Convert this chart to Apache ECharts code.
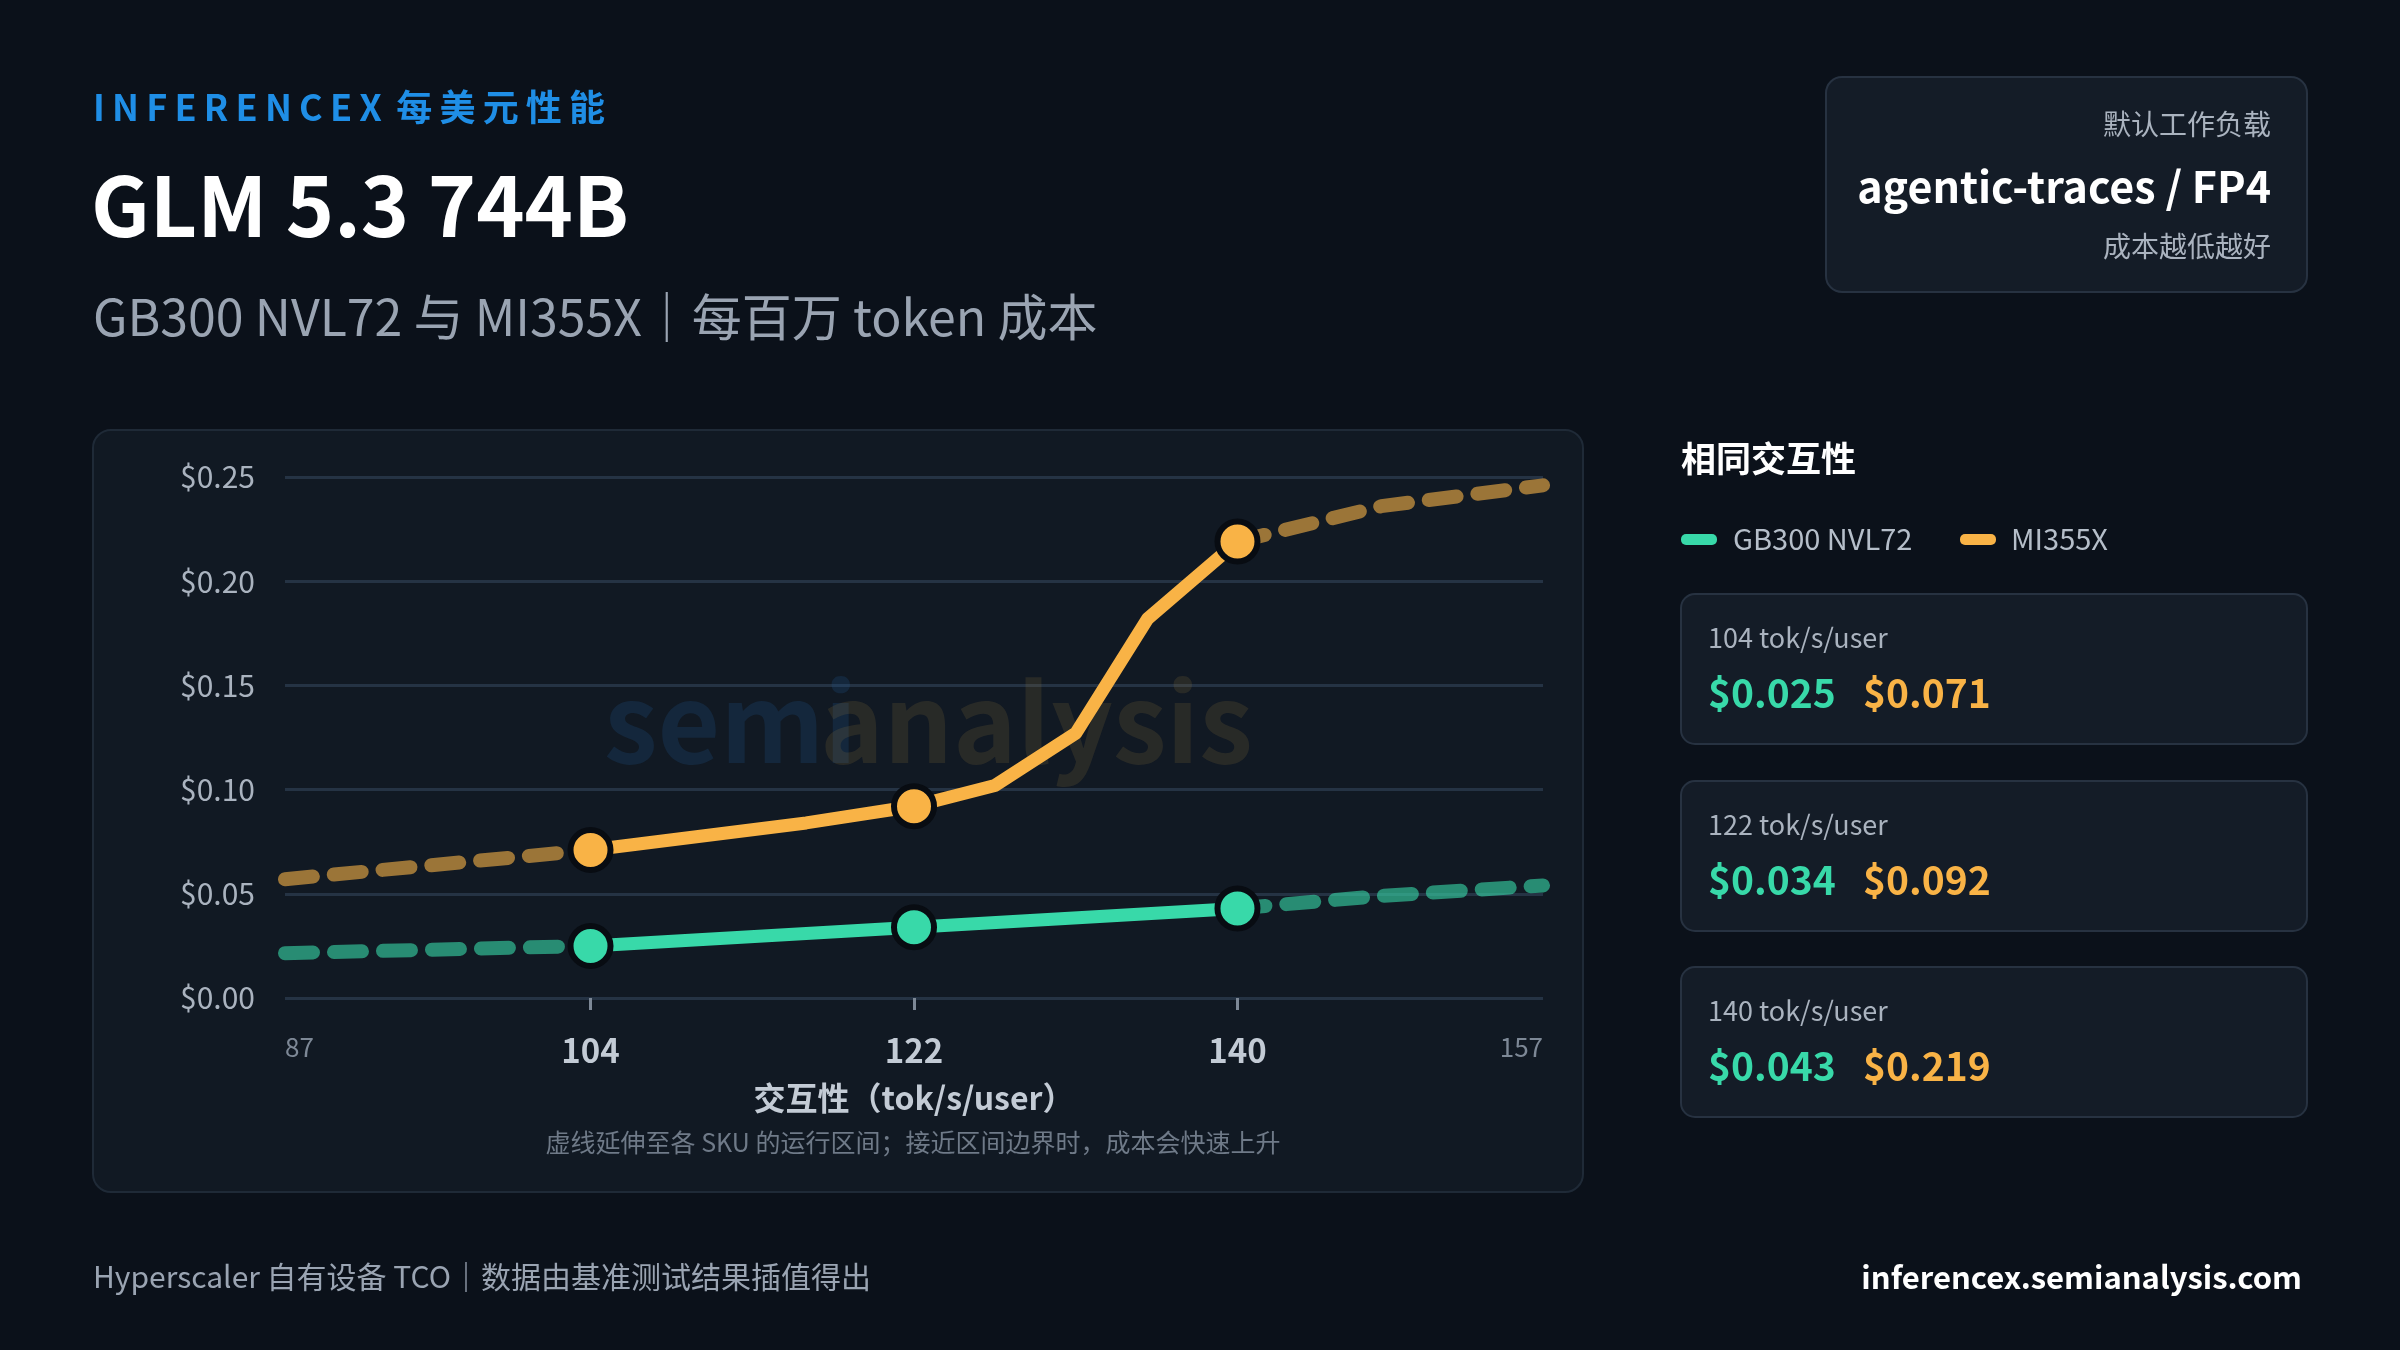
<!DOCTYPE html>
<html lang="zh-CN">
<head>
<meta charset="UTF-8">
<title>GLM 5.3 744B 每美元性能</title>
<script src="https://cdn.jsdelivr.net/npm/echarts@6.0.0/dist/echarts.min.js"></script>
<style>
  html, body { margin: 0; padding: 0; background: #0b111a; }
  #chart { width: 2400px; height: 1350px; }
</style>
</head>
<body>
<div id="chart"></div>
<script>
// 数据
const xLabels = [87, 104, 122, 140, 157];
const xTicks = [104, 122, 140];
const gbDashLeft = [[87, 0.0215], [104, 0.025]];
const gbSolid = [[104, 0.025], [122, 0.034], [140, 0.043]];
const gbDashRight = [[140, 0.043], [148, 0.049], [157, 0.054]];
const miDashLeft = [[87, 0.057], [104, 0.071]];
const miSolid = [[104, 0.071], [116, 0.084], [122, 0.092], [126.5, 0.102], [131, 0.127], [135, 0.182], [140, 0.219]];
const miDashRight = [[140, 0.219], [148, 0.236], [157, 0.246]];
const gbPoints = [[104, 0.025], [122, 0.034], [140, 0.043]];
const miPoints = [[104, 0.071], [122, 0.092], [140, 0.219]];
const cards = [
  { label: '104 tok/s/user', gb: '$0.025', mi: '$0.071' },
  { label: '122 tok/s/user', gb: '$0.034', mi: '$0.092' },
  { label: '140 tok/s/user', gb: '$0.043', mi: '$0.219' }
];

const GREEN = '#38d9a9';
const ORANGE = '#f9b346';
const FONT = '"Noto Sans CJK SC", "Noto Sans", sans-serif';

const chart = echarts.init(document.getElementById('chart'));

function dashed(data, color) {
  return {
    type: 'line', data: data, symbol: 'none', z: 2,
    lineStyle: { color: color, width: 14, opacity: 0.6, type: [28, 21], cap: 'round' }
  };
}
function solid(data, color) {
  return {
    type: 'line', data: data, symbol: 'none', z: 3,
    lineStyle: { color: color, width: 13, cap: 'round', join: 'round' }
  };
}
function points(data, color) {
  return {
    type: 'scatter', data: data, symbolSize: 40, z: 5,
    itemStyle: { color: color, borderColor: '#080c12', borderWidth: 6, opacity: 1 }
  };
}

// 字母间距
function spaced(s) { return s.split('').join('\u2009'); }

const graphics = [
  { type: 'text', left: 93, top: 89, style: { text: spaced('INFERENCEX') + '\u2009\u2009' + spaced('每美元性能'), fill: '#1f8ee6', font: 'bold 36px ' + FONT } },
  { type: 'text', left: 91, top: 165, style: { text: 'GLM 5.3 744B', fill: '#ffffff', font: 'bold 82px ' + FONT } },
  { type: 'text', left: 93, top: 292, style: { text: 'GB300 NVL72 与 MI355X｜每百万 token 成本', fill: '#9aa4b2', font: '50px ' + FONT } },
  { type: 'rect', shape: { x: 1826, y: 77, width: 481, height: 215, r: 16 }, style: { fill: '#141c27', stroke: '#273241', lineWidth: 2 } },
  { type: 'text', right: 2400 - 2271, top: 110, style: { text: '默认工作负载', fill: '#aab3bf', font: '28px ' + FONT, align: 'right' } },
  { type: 'text', right: 2400 - 2271, top: 165, style: { text: 'agentic-traces / FP4', fill: '#ffffff', font: 'bold 43px ' + FONT, align: 'right' } },
  { type: 'text', right: 2400 - 2271, top: 232, style: { text: '成本越低越好', fill: '#aab3bf', font: '28px ' + FONT, align: 'right' } },
  { type: 'rect', z: -10, shape: { x: 93, y: 430, width: 1490, height: 762, r: 18 }, style: { fill: '#111923', stroke: '#1f2a37', lineWidth: 2 } },
  { type: 'text', z: 1, left: 604, top: 668, style: { text: 'semi', fill: 'rgba(30,90,150,0.22)', font: 'bold 108px ' + FONT } },
  { type: 'text', z: 1, left: 820, top: 668, style: { text: 'analysis', fill: 'rgba(150,120,60,0.18)', font: 'bold 108px ' + FONT } },
  { type: 'text', style: { x: 913, y: 1142, text: '虚线延伸至各 SKU 的运行区间；接近区间边界时，成本会快速上升', fill: '#6f7a88', font: '25px ' + FONT, align: 'center', verticalAlign: 'middle' } },
  { type: 'text', left: 1681, top: 441, style: { text: '相同交互性', fill: '#ffffff', font: 'bold 35px ' + FONT } },
  { type: 'rect', shape: { x: 1681, y: 534, width: 36, height: 11, r: 5 }, style: { fill: GREEN } },
  { type: 'text', left: 1733, top: 524, style: { text: 'GB300 NVL72', fill: '#b5bec9', font: '29px ' + FONT } },
  { type: 'rect', shape: { x: 1960, y: 534, width: 36, height: 11, r: 5 }, style: { fill: ORANGE } },
  { type: 'text', left: 2011, top: 524, style: { text: 'MI355X', fill: '#b5bec9', font: '29px ' + FONT } },
  { type: 'text', left: 93, top: 1262, style: { text: 'Hyperscaler 自有设备 TCO｜数据由基准测试结果插值得出', fill: '#9aa4b2', font: '30px ' + FONT } },
  { type: 'text', right: 98, top: 1262, style: { text: 'inferencex.semianalysis.com', fill: '#ffffff', font: 'bold 31px ' + FONT, align: 'right' } }
];
const cardTops = [594, 781, 967];
cards.forEach(function (c, i) {
  const y = cardTops[i];
  graphics.push(
    { type: 'rect', shape: { x: 1681, y: y, width: 626, height: 150, r: 14 }, style: { fill: '#141c27', stroke: '#273241', lineWidth: 2 } },
    { type: 'text', left: 1708, top: y + 30, style: { text: c.label, fill: '#aab3bf', font: '27px ' + FONT } },
    { type: 'text', left: 1708, top: y + 80, style: { text: c.gb, fill: GREEN, font: 'bold 39px ' + FONT } },
    { type: 'text', left: 1863, top: y + 80, style: { text: c.mi, fill: ORANGE, font: 'bold 39px ' + FONT } }
  );
});

chart.setOption({
  backgroundColor: '#0b111a',
  animation: false,
  graphic: graphics,
  grid: { left: 285, right: 857, top: 477, bottom: 352 },
  xAxis: {
    type: 'value', min: 87, max: 157,
    name: '交互性（tok/s/user）', nameLocation: 'middle', nameGap: 84,
    nameTextStyle: { color: '#c3cbd5', fontSize: 32, fontWeight: 'bold', fontFamily: FONT },
    axisLine: { show: false },
    splitLine: { show: false },
    axisTick: { show: true, customValues: xTicks, length: 12, lineStyle: { color: '#7d8896', width: 3 } },
    axisLabel: {
      customValues: xLabels, margin: 36, fontFamily: FONT,
      alignMinLabel: 'left', alignMaxLabel: 'right',
      formatter: function (v) { return (v === 87 || v === 157) ? '{s|' + v + '}' : '{b|' + v + '}'; },
      rich: {
        s: { color: '#7d8896', fontSize: 26, fontFamily: FONT },
        b: { color: '#c3cbd5', fontSize: 33, fontWeight: 'bold', fontFamily: FONT }
      }
    }
  },
  yAxis: {
    type: 'value', min: 0, max: 0.25, interval: 0.05,
    axisLine: { show: false }, axisTick: { show: false },
    axisLabel: { color: '#aab3bf', fontSize: 30, fontFamily: FONT, margin: 30, formatter: function (v) { return '$' + v.toFixed(2); } },
    splitLine: { lineStyle: { color: '#253344', width: 3 } }
  },
  series: [
    dashed(gbDashLeft, GREEN), dashed(gbDashRight, GREEN),
    dashed(miDashLeft, ORANGE), dashed(miDashRight, ORANGE),
    solid(gbSolid, GREEN), solid(miSolid, ORANGE),
    points(gbPoints, GREEN), points(miPoints, ORANGE)
  ]
});
</script>
</body>
</html>
